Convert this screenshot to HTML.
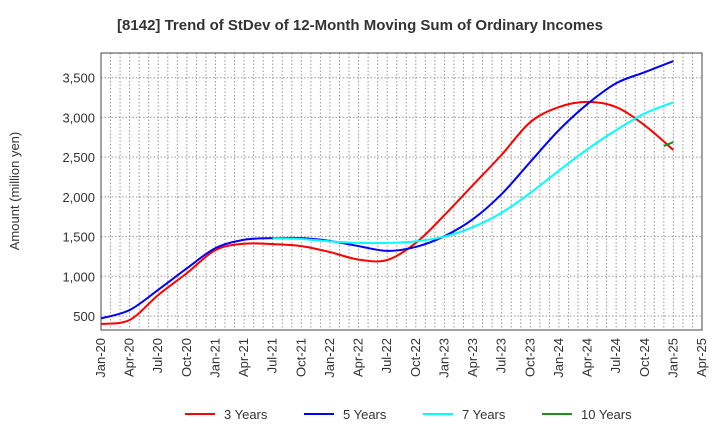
<!DOCTYPE html>
<html><head><meta charset="utf-8"><style>
body{margin:0;background:#fff;font-family:"Liberation Sans",sans-serif;}
</style></head><body>
<svg id="c" width="720" height="440" xmlns="http://www.w3.org/2000/svg">
<text x="360" y="30" text-anchor="middle" font-size="15" font-weight="bold" fill="#333">[8142]  Trend of StDev of 12-Month Moving Sum of Ordinary Incomes</text>
<text transform="translate(19,191) rotate(-90)" text-anchor="middle" font-size="13" fill="#333">Amount (million yen)</text>
<g id="grid"></g><g id="series"></g><g id="axes"></g><g id="legend"></g>
</svg>
<script>
const xLabels=["Jan-20","Apr-20","Jul-20","Oct-20","Jan-21","Apr-21","Jul-21","Oct-21","Jan-22","Apr-22","Jul-22","Oct-22","Jan-23","Apr-23","Jul-23","Oct-23","Jan-24","Apr-24","Jul-24","Oct-24","Jan-25","Apr-25"];
const yTicks=[500,1000,1500,2000,2500,3000,3500];
const s3=[400,450,765,1040,1330,1410,1405,1380,1305,1210,1205,1420,1770,2150,2530,2940,3130,3195,3130,2900,2590];
const s5=[470,575,830,1100,1355,1460,1480,1480,1445,1380,1320,1370,1505,1720,2035,2440,2840,3170,3430,3570,3710];
const s7=[null,null,null,null,null,null,1480,1470,1440,1420,1420,1440,1500,1620,1800,2050,2330,2600,2840,3050,3190];
const s10m=[59,60];const s10=[2640,2690];
const L=101,R=702,T=53,B=330,ymin=324,ymax=3811;
const NS="http://www.w3.org/2000/svg";
const xm=m=>L+m*(R-L)/63, y=v=>B-(v-ymin)*(B-T)/(ymax-ymin);
function mk(t,a,p){const e=document.createElementNS(NS,t);for(const k in a)e.setAttribute(k,a[k]);p.appendChild(e);return e;}
const g=document.getElementById('grid'),ax=document.getElementById('axes'),sg=document.getElementById('series'),lg=document.getElementById('legend');
for(let m=1;m<63;m++){const l=mk('line',{x1:xm(m),x2:xm(m),y1:T,y2:B,stroke:'#999','stroke-dasharray':'1.5,2','stroke-width':1},g);

}
yTicks.forEach(v=>{const l=mk('line',{x1:L,x2:R,y1:y(v),y2:y(v),stroke:'#999','stroke-dasharray':'1.5,2'},g);


const t=mk('text',{x:L-6,y:y(v)+5,'text-anchor':'end','font-size':13,fill:'#333'},ax);t.textContent=v.toLocaleString('en-US');

});
xLabels.forEach((s,i)=>{const x=xm(i*3);const t=mk('text',{transform:`translate(${x+4},338) rotate(-90)`,'text-anchor':'end','font-size':13,fill:'#333'},ax);t.textContent=s;

});
const fr=mk('rect',{x:L,y:T,width:R-L,height:B-T,fill:'none',stroke:'#444','stroke-width':1},ax);


function path(pts){let d=`M${pts[0][0]},${pts[0][1]}`;for(let i=0;i<pts.length-1;i++){const p0=pts[i-1]||pts[i],p1=pts[i],p2=pts[i+1],p3=pts[i+2]||p2;
d+=` C${p1[0]+(p2[0]-p0[0])/6},${p1[1]+(p2[1]-p0[1])/6} ${p2[0]-(p3[0]-p1[0])/6},${p2[1]-(p3[1]-p1[1])/6} ${p2[0]},${p2[1]}`;}return d;}
function draw(vals,months,color,name){const pts=[];vals.forEach((v,i)=>{if(v!=null)pts.push([xm(months[i]),y(v)]);});
const p=mk('path',{d:path(pts),fill:'none',stroke:color,'stroke-width':2},sg);

}
const q=s3.map((_,i)=>i*3);
draw(s3,q,'#ff0000','series-3-years');draw(s5,q,'#0000ff','series-5-years');draw(s7,q,'#00ffff','series-7-years');draw(s10,s10m,'#228b22','series-10-years');
[["3 Years","#ff0000",185],["5 Years","#0000ff",304],["7 Years","#00ffff",423],["10 Years","#228b22",542]].forEach(([n,c,x])=>{
const l=mk('line',{x1:x,x2:x+30,y1:414,y2:414,stroke:c,'stroke-width':2},lg);


const t=mk('text',{x:x+39,y:419,'font-size':13,fill:'#333'},lg);t.textContent=n;

});
</script>
</body></html>
